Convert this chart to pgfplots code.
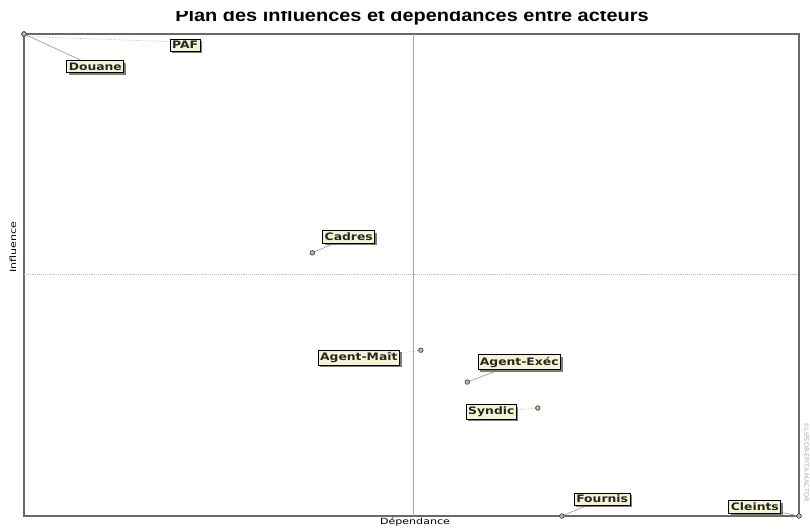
\documentclass[border=0pt]{standalone}
\usepackage{pgfplots}
\pgfplotsset{compat=1.18}
\usepackage{pgfplotstable}
\usepackage{fontspec}
\setmainfont{DejaVu Sans}
\newfontfamily\lblfont[FakeStretch=1.2]{DejaVu Sans Bold}
\newfontfamily\axfont[FakeStretch=1.3]{DejaVu Sans}
\newfontfamily\ttlfont[FakeStretch=1.14]{Liberation Sans}
\usetikzlibrary{shadows}
\definecolor{lblfill}{RGB}{244,244,212}
\definecolor{frame}{RGB}{105,105,105}

\pgfplotstableread{
x     y     name
0     100   PAF
0     100   Douane
37.2  54.6  Cadres
51.2  34.4  Agent-Maît
57.2  27.8  Agent-Exéc
66.3  22.4  Syndic
69.4  0     Fournis
100   0     Cleints
}\acteurs

\begin{document}
\begin{tikzpicture}[
  lbl/.style={draw=black, line width=0.7pt, fill=lblfill, inner xsep=2pt, inner ysep=2.2pt,
    text=black!85, font=\lblfont\fontsize{10.3}{11}\selectfont,
    drop shadow={shadow xshift=2pt, shadow yshift=-2pt, fill=black!60, opacity=0.85}},
  lead/.style={gray!75, line width=0.7pt},
  leaddot/.style={gray!65, line width=0.8pt, dotted}
]
\begin{axis}[
  at={(24pt,12pt)}, anchor=south west,
  scale only axis, width=775pt, height=482pt,
  xmin=0, xmax=100, ymin=0, ymax=100,
  axis line style={frame, line width=1.4pt},
  ticks=none,
  clip=false,
]
% quadrant lines
\draw[gray!70, line width=0.7pt] (axis cs:50.2,0) -- (axis cs:50.2,100);
\draw[gray!55, line width=0.9pt, densely dotted] (axis cs:0,50.2) -- (axis cs:100,50.2);

% leader lines
\draw[leaddot] (axis cs:0,99.5) -- (axis cs:20.8,98.3);
\draw[lead]    (axis cs:0,100) -- (axis cs:9.2,93.2);
\draw[lead]    (axis cs:37.2,54.6) -- (axis cs:41.9,57.9);
\draw[leaddot] (axis cs:51.2,34.4) -- (axis cs:43.2,32.8);
\draw[lead]    (axis cs:57.2,27.8) -- (axis cs:63.9,31.9);
\draw[leaddot] (axis cs:66.3,22.4) -- (axis cs:60.3,21.6);
\draw[lead]    (axis cs:69.4,0) -- (axis cs:74.6,3.5);
\draw[lead]    (axis cs:100,0) -- (axis cs:94.3,1.9);

\addplot[only marks, mark=*, mark size=2.3pt,
  mark options={fill=gray!50!olive!55, draw=gray!40!black, line width=0.6pt}]
  table[x=x, y=y] {\acteurs};

% labels
\node[lbl] at (axis cs:20.8,97.7) {PAF};
\node[lbl] at (axis cs:9.2,93.2) {Douane};
\node[lbl] at (axis cs:41.9,57.9) {Cadres};
\node[lbl] at (axis cs:43.2,32.8) {Agent-Maît};
\node[lbl] at (axis cs:63.9,31.9) {Agent-Exéc};
\node[lbl] at (axis cs:60.3,21.6) {Syndic};
\node[lbl] at (axis cs:74.6,3.5) {Fournis};
\node[lbl] at (axis cs:94.3,1.9) {Cleints};
\end{axis}

% title (top of the glyphs cut off, as in the reference) and axis labels
\node[font=\ttlfont\bfseries\fontsize{17.5}{18}\selectfont, anchor=base] at (412pt,506pt)
  {Plan des influences et dépendances entre acteurs};
\fill[white] (100pt,516.5pt) rectangle (720pt,528pt);
\node[font=\axfont\fontsize{8.5}{9}\selectfont, anchor=center] at (415pt,6pt) {Dépendance};
\node[font=\axfont\fontsize{8.5}{9}\selectfont, rotate=90, anchor=center] at (13pt,281pt) {Influence};
\node[font=\fontsize{6.5}{6.5}\selectfont, text=gray!60, rotate=-90, anchor=center] at (806.5pt,66pt) {©LIPSOR-EPITA-MACTOR};

\pgfresetboundingbox
\path[use as bounding box] (0pt,0pt) rectangle (810pt,528pt);
\end{tikzpicture}
\end{document}
